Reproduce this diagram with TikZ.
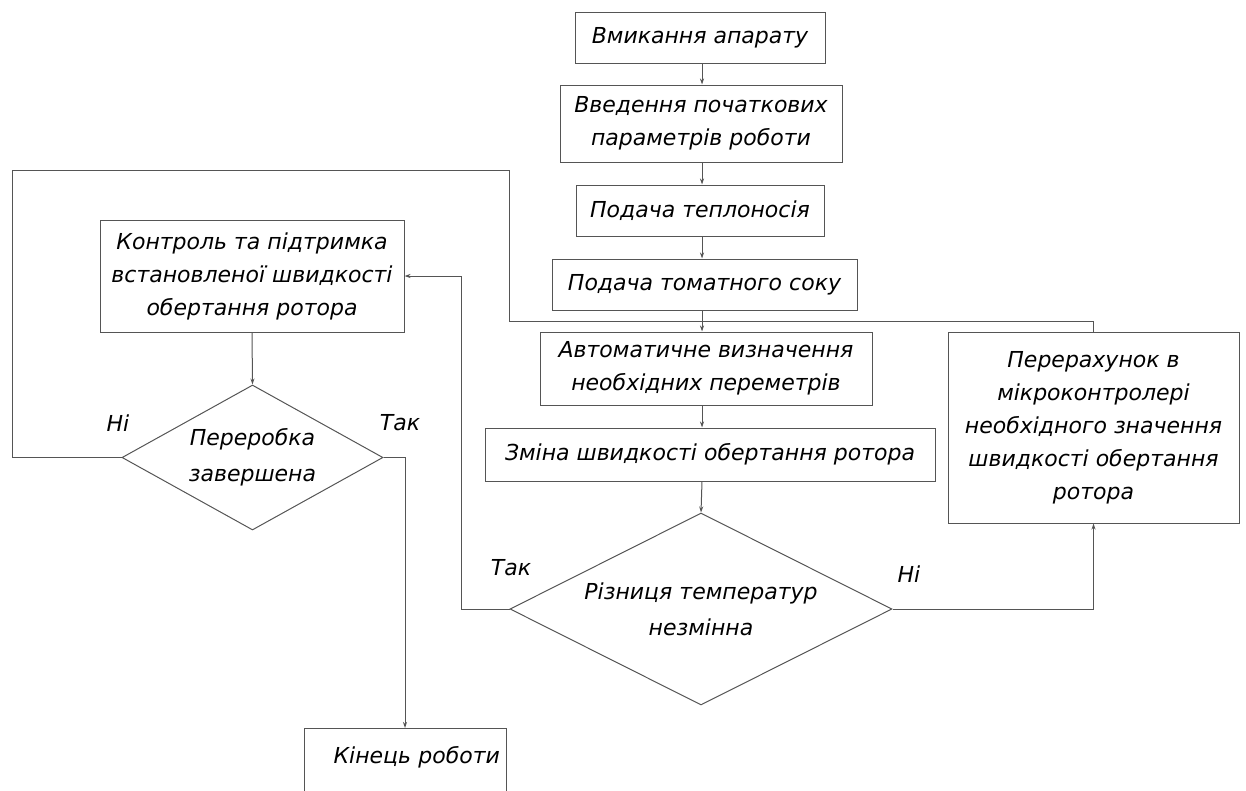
\documentclass[tikz,border=0pt]{standalone}
\usepackage{fontspec}
\setmainfont{DejaVu Sans}
\usetikzlibrary{shapes.geometric,arrows.meta}
\definecolor{linegray}{HTML}{555555}
\tikzset{
  blok/.style={draw=linegray, line width=1pt, rectangle, align=center, inner sep=0pt, font=\itshape\fontsize{22}{33}\selectfont},
  rishennia/.style={draw=linegray, line width=1pt, diamond, align=center, inner sep=0pt, font=\itshape\fontsize{22}{36}\selectfont},
  zviaz/.style={draw=linegray, line width=1pt},
  strilka/.style={zviaz, -{Stealth[length=6pt,width=4pt]}},
  pidpys/.style={font=\itshape\fontsize{22}{26}\selectfont}
}
\begin{document}
\begin{tikzpicture}[x=1pt, y=-1pt]
  \useasboundingbox (0,0) rectangle (1246,790);
  \clip (0,0) rectangle (1246,790);
  \node[blok, minimum width=250pt, minimum height=51pt] (vmyk) at (700,37.5) {Вмикання апарату};
  \node[blok, minimum width=282pt, minimum height=77pt] (vvod) at (701,123.5) {Введення початкових\\параметрів роботи};
  \node[blok, minimum width=248pt, minimum height=51pt] (teplo) at (700,210.5) {Подача теплоносія};
  \node[blok, minimum width=305pt, minimum height=51pt] (sik) at (704.5,284.5) {Подача томатного соку};
  \node[blok, minimum width=332pt, minimum height=73pt] (avto) at (706,368.5) {Автоматичне визначення\\необхідних переметрів};
  \node[blok, minimum width=450pt, minimum height=53pt] (zmina) at (710,454.5) {Зміна швидкості обертання ротора};
  \node[blok, minimum width=291pt, minimum height=191pt] (perer) at (1093.5,427.5) {Перерахунок в\\мікроконтролері\\необхідного значення\\швидкості обертання\\ротора};
  \node[blok, minimum width=304pt, minimum height=112pt] (kontr) at (252,276) {Контроль та підтримка\\встановленої швидкості\\обертання ротора};
  \node[rishennia, minimum width=261pt, minimum height=145pt, aspect=1.8] (pererob) at (252.5,457.5) {Переробка\\завершена};
  \node[rishennia, minimum width=382pt, minimum height=192pt, aspect=2] (riznytsia) at (701,609) {Різниця температур\\незмінна};
  \node[blok, anchor=north, minimum width=202pt, text width=190pt, align=right, text height=35pt, text depth=60pt] (kinets) at (405,728) {Кінець роботи};

  \node[pidpys] (ni1) at (118,423) {Ні};
  \node[pidpys] (tak1) at (400,423) {Так};
  \node[pidpys] (tak2) at (511,568) {Так};
  \node[pidpys] (ni2) at (909,574) {Ні};

  \coordinate (os) at (702,0);
  \coordinate (vuzol) at (702,321);
  \coordinate (zlivo) at (12,170);
  \coordinate (zhoru) at (509,321);
  \coordinate (povorot) at (461,0);

  \draw[strilka] (os |- vmyk.south) -- (os |- vvod.north);
  \draw[strilka] (os |- vvod.south) -- (os |- teplo.north);
  \draw[strilka] (os |- teplo.south) -- (os |- sik.north);
  \draw[strilka] (os |- sik.south) -- (os |- avto.north);
  \draw[strilka] (os |- avto.south) -- (os |- zmina.north);
  \draw[strilka] (os |- zmina.south) -- (riznytsia.north);
  \draw[zviaz] (pererob.west) -| (zlivo) -| (zhoru) -- (vuzol);
  \draw[zviaz] (perer.north) |- (vuzol);
  \draw[strilka] (riznytsia.east) -| (perer.south);
  \draw[strilka] (riznytsia.west) -| (povorot |- kontr.east) -- (kontr.east);
  \draw[strilka] (kontr.south) -- (pererob.north);
  \draw[strilka] (pererob.east) -| (kinets.north);
\end{tikzpicture}
\end{document}
